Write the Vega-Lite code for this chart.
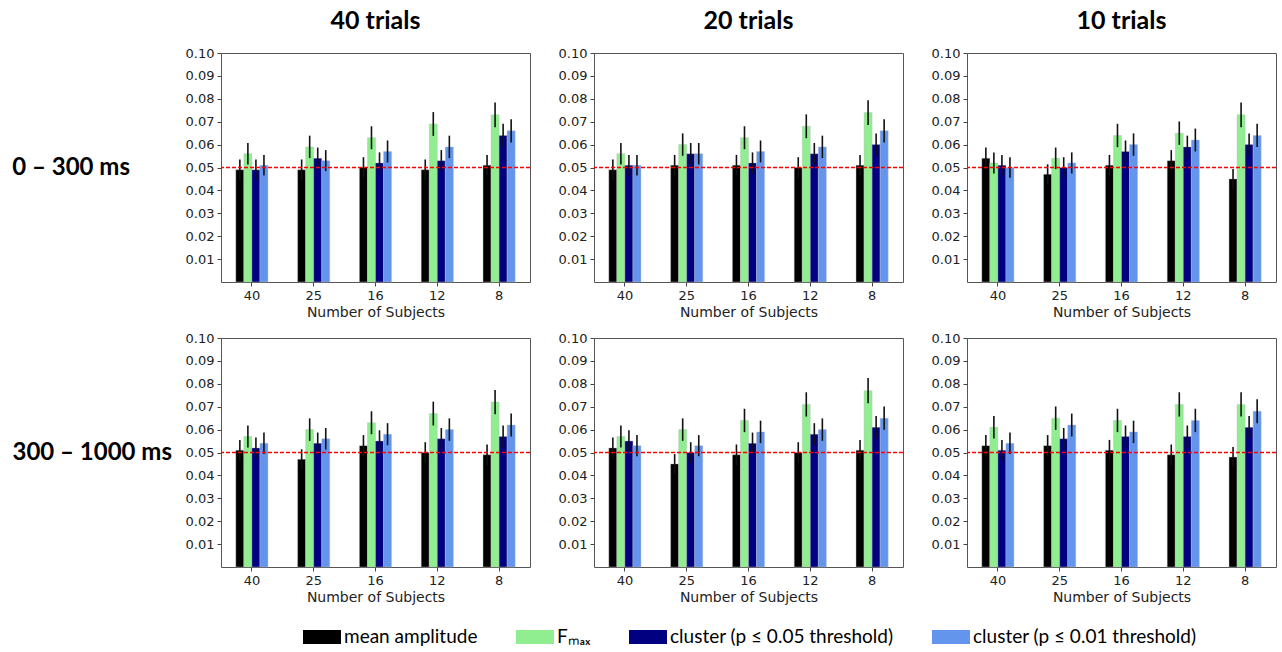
{
"$schema": "https://vega.github.io/schema/vega-lite/v6.json",
"padding": {"left": 12, "top": 9, "right": 5, "bottom": 5},
"data": {"values": [
{"w":"0 – 300 ms","t":"40 trials","n":"40","m":"a","v":0.049,"lo":0.0445,"hi":0.0535},
{"w":"0 – 300 ms","t":"40 trials","n":"40","m":"f","v":0.056,"lo":0.0513,"hi":0.0607},
{"w":"0 – 300 ms","t":"40 trials","n":"40","m":"c5","v":0.049,"lo":0.0445,"hi":0.0535},
{"w":"0 – 300 ms","t":"40 trials","n":"40","m":"c1","v":0.051,"lo":0.0465,"hi":0.0555},
{"w":"0 – 300 ms","t":"40 trials","n":"25","m":"a","v":0.049,"lo":0.0445,"hi":0.0535},
{"w":"0 – 300 ms","t":"40 trials","n":"25","m":"f","v":0.059,"lo":0.0541,"hi":0.0639},
{"w":"0 – 300 ms","t":"40 trials","n":"25","m":"c5","v":0.054,"lo":0.0493,"hi":0.0587},
{"w":"0 – 300 ms","t":"40 trials","n":"25","m":"c1","v":0.053,"lo":0.0484,"hi":0.0576},
{"w":"0 – 300 ms","t":"40 trials","n":"16","m":"a","v":0.050,"lo":0.0455,"hi":0.0545},
{"w":"0 – 300 ms","t":"40 trials","n":"16","m":"f","v":0.063,"lo":0.058,"hi":0.068},
{"w":"0 – 300 ms","t":"40 trials","n":"16","m":"c5","v":0.052,"lo":0.0474,"hi":0.0566},
{"w":"0 – 300 ms","t":"40 trials","n":"16","m":"c1","v":0.057,"lo":0.0522,"hi":0.0618},
{"w":"0 – 300 ms","t":"40 trials","n":"12","m":"a","v":0.049,"lo":0.0445,"hi":0.0535},
{"w":"0 – 300 ms","t":"40 trials","n":"12","m":"f","v":0.069,"lo":0.0638,"hi":0.0742},
{"w":"0 – 300 ms","t":"40 trials","n":"12","m":"c5","v":0.053,"lo":0.0484,"hi":0.0576},
{"w":"0 – 300 ms","t":"40 trials","n":"12","m":"c1","v":0.059,"lo":0.0541,"hi":0.0639},
{"w":"0 – 300 ms","t":"40 trials","n":"8","m":"a","v":0.051,"lo":0.0465,"hi":0.0555},
{"w":"0 – 300 ms","t":"40 trials","n":"8","m":"f","v":0.073,"lo":0.0676,"hi":0.0784},
{"w":"0 – 300 ms","t":"40 trials","n":"8","m":"c5","v":0.064,"lo":0.0589,"hi":0.0691},
{"w":"0 – 300 ms","t":"40 trials","n":"8","m":"c1","v":0.066,"lo":0.0609,"hi":0.0711},
{"w":"0 – 300 ms","t":"20 trials","n":"40","m":"a","v":0.049,"lo":0.0445,"hi":0.0535},
{"w":"0 – 300 ms","t":"20 trials","n":"40","m":"f","v":0.056,"lo":0.0513,"hi":0.0607},
{"w":"0 – 300 ms","t":"20 trials","n":"40","m":"c5","v":0.051,"lo":0.0465,"hi":0.0555},
{"w":"0 – 300 ms","t":"20 trials","n":"40","m":"c1","v":0.051,"lo":0.0465,"hi":0.0555},
{"w":"0 – 300 ms","t":"20 trials","n":"25","m":"a","v":0.051,"lo":0.0465,"hi":0.0555},
{"w":"0 – 300 ms","t":"20 trials","n":"25","m":"f","v":0.060,"lo":0.0551,"hi":0.0649},
{"w":"0 – 300 ms","t":"20 trials","n":"25","m":"c5","v":0.056,"lo":0.0513,"hi":0.0607},
{"w":"0 – 300 ms","t":"20 trials","n":"25","m":"c1","v":0.056,"lo":0.0513,"hi":0.0607},
{"w":"0 – 300 ms","t":"20 trials","n":"16","m":"a","v":0.051,"lo":0.0465,"hi":0.0555},
{"w":"0 – 300 ms","t":"20 trials","n":"16","m":"f","v":0.063,"lo":0.058,"hi":0.068},
{"w":"0 – 300 ms","t":"20 trials","n":"16","m":"c5","v":0.052,"lo":0.0474,"hi":0.0566},
{"w":"0 – 300 ms","t":"20 trials","n":"16","m":"c1","v":0.057,"lo":0.0522,"hi":0.0618},
{"w":"0 – 300 ms","t":"20 trials","n":"12","m":"a","v":0.050,"lo":0.0455,"hi":0.0545},
{"w":"0 – 300 ms","t":"20 trials","n":"12","m":"f","v":0.068,"lo":0.0628,"hi":0.0732},
{"w":"0 – 300 ms","t":"20 trials","n":"12","m":"c5","v":0.056,"lo":0.0513,"hi":0.0607},
{"w":"0 – 300 ms","t":"20 trials","n":"12","m":"c1","v":0.059,"lo":0.0541,"hi":0.0639},
{"w":"0 – 300 ms","t":"20 trials","n":"8","m":"a","v":0.051,"lo":0.0465,"hi":0.0555},
{"w":"0 – 300 ms","t":"20 trials","n":"8","m":"f","v":0.074,"lo":0.0686,"hi":0.0794},
{"w":"0 – 300 ms","t":"20 trials","n":"8","m":"c5","v":0.060,"lo":0.0551,"hi":0.0649},
{"w":"0 – 300 ms","t":"20 trials","n":"8","m":"c1","v":0.066,"lo":0.0609,"hi":0.0711},
{"w":"0 – 300 ms","t":"10 trials","n":"40","m":"a","v":0.054,"lo":0.0493,"hi":0.0587},
{"w":"0 – 300 ms","t":"10 trials","n":"40","m":"f","v":0.052,"lo":0.0474,"hi":0.0566},
{"w":"0 – 300 ms","t":"10 trials","n":"40","m":"c5","v":0.051,"lo":0.0465,"hi":0.0555},
{"w":"0 – 300 ms","t":"10 trials","n":"40","m":"c1","v":0.050,"lo":0.0455,"hi":0.0545},
{"w":"0 – 300 ms","t":"10 trials","n":"25","m":"a","v":0.047,"lo":0.0426,"hi":0.0514},
{"w":"0 – 300 ms","t":"10 trials","n":"25","m":"f","v":0.054,"lo":0.0493,"hi":0.0587},
{"w":"0 – 300 ms","t":"10 trials","n":"25","m":"c5","v":0.050,"lo":0.0455,"hi":0.0545},
{"w":"0 – 300 ms","t":"10 trials","n":"25","m":"c1","v":0.052,"lo":0.0474,"hi":0.0566},
{"w":"0 – 300 ms","t":"10 trials","n":"16","m":"a","v":0.051,"lo":0.0465,"hi":0.0555},
{"w":"0 – 300 ms","t":"10 trials","n":"16","m":"f","v":0.064,"lo":0.0589,"hi":0.0691},
{"w":"0 – 300 ms","t":"10 trials","n":"16","m":"c5","v":0.057,"lo":0.0522,"hi":0.0618},
{"w":"0 – 300 ms","t":"10 trials","n":"16","m":"c1","v":0.060,"lo":0.0551,"hi":0.0649},
{"w":"0 – 300 ms","t":"10 trials","n":"12","m":"a","v":0.053,"lo":0.0484,"hi":0.0576},
{"w":"0 – 300 ms","t":"10 trials","n":"12","m":"f","v":0.065,"lo":0.0599,"hi":0.0701},
{"w":"0 – 300 ms","t":"10 trials","n":"12","m":"c5","v":0.059,"lo":0.0541,"hi":0.0639},
{"w":"0 – 300 ms","t":"10 trials","n":"12","m":"c1","v":0.062,"lo":0.057,"hi":0.067},
{"w":"0 – 300 ms","t":"10 trials","n":"8","m":"a","v":0.045,"lo":0.0407,"hi":0.0493},
{"w":"0 – 300 ms","t":"10 trials","n":"8","m":"f","v":0.073,"lo":0.0676,"hi":0.0784},
{"w":"0 – 300 ms","t":"10 trials","n":"8","m":"c5","v":0.060,"lo":0.0551,"hi":0.0649},
{"w":"0 – 300 ms","t":"10 trials","n":"8","m":"c1","v":0.064,"lo":0.0589,"hi":0.0691},
{"w":"300 – 1000 ms","t":"40 trials","n":"40","m":"a","v":0.051,"lo":0.0465,"hi":0.0555},
{"w":"300 – 1000 ms","t":"40 trials","n":"40","m":"f","v":0.057,"lo":0.0522,"hi":0.0618},
{"w":"300 – 1000 ms","t":"40 trials","n":"40","m":"c5","v":0.052,"lo":0.0474,"hi":0.0566},
{"w":"300 – 1000 ms","t":"40 trials","n":"40","m":"c1","v":0.054,"lo":0.0493,"hi":0.0587},
{"w":"300 – 1000 ms","t":"40 trials","n":"25","m":"a","v":0.047,"lo":0.0426,"hi":0.0514},
{"w":"300 – 1000 ms","t":"40 trials","n":"25","m":"f","v":0.060,"lo":0.0551,"hi":0.0649},
{"w":"300 – 1000 ms","t":"40 trials","n":"25","m":"c5","v":0.054,"lo":0.0493,"hi":0.0587},
{"w":"300 – 1000 ms","t":"40 trials","n":"25","m":"c1","v":0.056,"lo":0.0513,"hi":0.0607},
{"w":"300 – 1000 ms","t":"40 trials","n":"16","m":"a","v":0.053,"lo":0.0484,"hi":0.0576},
{"w":"300 – 1000 ms","t":"40 trials","n":"16","m":"f","v":0.063,"lo":0.058,"hi":0.068},
{"w":"300 – 1000 ms","t":"40 trials","n":"16","m":"c5","v":0.055,"lo":0.0503,"hi":0.0597},
{"w":"300 – 1000 ms","t":"40 trials","n":"16","m":"c1","v":0.058,"lo":0.0532,"hi":0.0628},
{"w":"300 – 1000 ms","t":"40 trials","n":"12","m":"a","v":0.050,"lo":0.0455,"hi":0.0545},
{"w":"300 – 1000 ms","t":"40 trials","n":"12","m":"f","v":0.067,"lo":0.0618,"hi":0.0722},
{"w":"300 – 1000 ms","t":"40 trials","n":"12","m":"c5","v":0.056,"lo":0.0513,"hi":0.0607},
{"w":"300 – 1000 ms","t":"40 trials","n":"12","m":"c1","v":0.060,"lo":0.0551,"hi":0.0649},
{"w":"300 – 1000 ms","t":"40 trials","n":"8","m":"a","v":0.049,"lo":0.0445,"hi":0.0535},
{"w":"300 – 1000 ms","t":"40 trials","n":"8","m":"f","v":0.072,"lo":0.0667,"hi":0.0773},
{"w":"300 – 1000 ms","t":"40 trials","n":"8","m":"c5","v":0.057,"lo":0.0522,"hi":0.0618},
{"w":"300 – 1000 ms","t":"40 trials","n":"8","m":"c1","v":0.062,"lo":0.057,"hi":0.067},
{"w":"300 – 1000 ms","t":"20 trials","n":"40","m":"a","v":0.052,"lo":0.0474,"hi":0.0566},
{"w":"300 – 1000 ms","t":"20 trials","n":"40","m":"f","v":0.057,"lo":0.0522,"hi":0.0618},
{"w":"300 – 1000 ms","t":"20 trials","n":"40","m":"c5","v":0.055,"lo":0.0503,"hi":0.0597},
{"w":"300 – 1000 ms","t":"20 trials","n":"40","m":"c1","v":0.053,"lo":0.0484,"hi":0.0576},
{"w":"300 – 1000 ms","t":"20 trials","n":"25","m":"a","v":0.045,"lo":0.0407,"hi":0.0493},
{"w":"300 – 1000 ms","t":"20 trials","n":"25","m":"f","v":0.060,"lo":0.0551,"hi":0.0649},
{"w":"300 – 1000 ms","t":"20 trials","n":"25","m":"c5","v":0.050,"lo":0.0455,"hi":0.0545},
{"w":"300 – 1000 ms","t":"20 trials","n":"25","m":"c1","v":0.053,"lo":0.0484,"hi":0.0576},
{"w":"300 – 1000 ms","t":"20 trials","n":"16","m":"a","v":0.049,"lo":0.0445,"hi":0.0535},
{"w":"300 – 1000 ms","t":"20 trials","n":"16","m":"f","v":0.064,"lo":0.0589,"hi":0.0691},
{"w":"300 – 1000 ms","t":"20 trials","n":"16","m":"c5","v":0.054,"lo":0.0493,"hi":0.0587},
{"w":"300 – 1000 ms","t":"20 trials","n":"16","m":"c1","v":0.059,"lo":0.0541,"hi":0.0639},
{"w":"300 – 1000 ms","t":"20 trials","n":"12","m":"a","v":0.050,"lo":0.0455,"hi":0.0545},
{"w":"300 – 1000 ms","t":"20 trials","n":"12","m":"f","v":0.071,"lo":0.0657,"hi":0.0763},
{"w":"300 – 1000 ms","t":"20 trials","n":"12","m":"c5","v":0.058,"lo":0.0532,"hi":0.0628},
{"w":"300 – 1000 ms","t":"20 trials","n":"12","m":"c1","v":0.060,"lo":0.0551,"hi":0.0649},
{"w":"300 – 1000 ms","t":"20 trials","n":"8","m":"a","v":0.051,"lo":0.0465,"hi":0.0555},
{"w":"300 – 1000 ms","t":"20 trials","n":"8","m":"f","v":0.077,"lo":0.0715,"hi":0.0825},
{"w":"300 – 1000 ms","t":"20 trials","n":"8","m":"c5","v":0.061,"lo":0.0561,"hi":0.0659},
{"w":"300 – 1000 ms","t":"20 trials","n":"8","m":"c1","v":0.065,"lo":0.0599,"hi":0.0701},
{"w":"300 – 1000 ms","t":"10 trials","n":"40","m":"a","v":0.053,"lo":0.0484,"hi":0.0576},
{"w":"300 – 1000 ms","t":"10 trials","n":"40","m":"f","v":0.061,"lo":0.0561,"hi":0.0659},
{"w":"300 – 1000 ms","t":"10 trials","n":"40","m":"c5","v":0.051,"lo":0.0465,"hi":0.0555},
{"w":"300 – 1000 ms","t":"10 trials","n":"40","m":"c1","v":0.054,"lo":0.0493,"hi":0.0587},
{"w":"300 – 1000 ms","t":"10 trials","n":"25","m":"a","v":0.053,"lo":0.0484,"hi":0.0576},
{"w":"300 – 1000 ms","t":"10 trials","n":"25","m":"f","v":0.065,"lo":0.0599,"hi":0.0701},
{"w":"300 – 1000 ms","t":"10 trials","n":"25","m":"c5","v":0.056,"lo":0.0513,"hi":0.0607},
{"w":"300 – 1000 ms","t":"10 trials","n":"25","m":"c1","v":0.062,"lo":0.057,"hi":0.067},
{"w":"300 – 1000 ms","t":"10 trials","n":"16","m":"a","v":0.051,"lo":0.0465,"hi":0.0555},
{"w":"300 – 1000 ms","t":"10 trials","n":"16","m":"f","v":0.064,"lo":0.0589,"hi":0.0691},
{"w":"300 – 1000 ms","t":"10 trials","n":"16","m":"c5","v":0.057,"lo":0.0522,"hi":0.0618},
{"w":"300 – 1000 ms","t":"10 trials","n":"16","m":"c1","v":0.059,"lo":0.0541,"hi":0.0639},
{"w":"300 – 1000 ms","t":"10 trials","n":"12","m":"a","v":0.049,"lo":0.0445,"hi":0.0535},
{"w":"300 – 1000 ms","t":"10 trials","n":"12","m":"f","v":0.071,"lo":0.0657,"hi":0.0763},
{"w":"300 – 1000 ms","t":"10 trials","n":"12","m":"c5","v":0.057,"lo":0.0522,"hi":0.0618},
{"w":"300 – 1000 ms","t":"10 trials","n":"12","m":"c1","v":0.064,"lo":0.0589,"hi":0.0691},
{"w":"300 – 1000 ms","t":"10 trials","n":"8","m":"a","v":0.048,"lo":0.0436,"hi":0.0524},
{"w":"300 – 1000 ms","t":"10 trials","n":"8","m":"f","v":0.071,"lo":0.0657,"hi":0.0763},
{"w":"300 – 1000 ms","t":"10 trials","n":"8","m":"c5","v":0.061,"lo":0.0561,"hi":0.0659},
{"w":"300 – 1000 ms","t":"10 trials","n":"8","m":"c1","v":0.068,"lo":0.0628,"hi":0.0732}
]},
"facet": {
  "row": {"field": "w", "type": "nominal", "sort": ["0 – 300 ms", "300 – 1000 ms"],
    "header": {"title": null, "labelAngle": 0, "labelOrient": "left", "labelAlign": "left", "labelFont": "Lato", "labelFontSize": 24, "labelFontWeight": "bold", "labelColor": "#000", "labelPadding": 49,
      "labelExpr": "datum.value == '0 – 300 ms' ? '0 – 300 ms\u2800\u2009\u2009\u2800' : datum.value"}},
  "column": {"field": "t", "type": "nominal", "sort": ["40 trials", "20 trials", "10 trials"],
    "header": {"title": null, "labelFont": "Lato", "labelFontSize": 25, "labelFontWeight": "bold", "labelColor": "#000", "labelPadding": 19}}
},
"spacing": {"row": 56, "column": 64},
"bounds": "flush",
"resolve": {"axis": {"x": "independent", "y": "independent"}},
"spec": {
  "width": 309,
  "height": 229,
  "layer": [
    {"mark": {"type": "bar", "stroke": "#bbbbbb", "strokeWidth": 0.4},
     "encoding": {
       "x": {"field": "n", "type": "nominal", "sort": ["40", "25", "16", "12", "8"],
         "scale": {"paddingInner": 0.48, "paddingOuter": 0.24},
         "axis": {"title": "Number of Subjects", "labelAngle": 0}},
       "xOffset": {"field": "m", "type": "nominal", "sort": ["a", "f", "c5", "c1"], "scale": {"domain": ["a", "f", "c5", "c1"]}},
       "y": {"field": "v", "type": "quantitative",
         "scale": {"domain": [0, 0.1], "nice": false, "zero": true},
         "axis": {"title": null, "values": [0.01, 0.02, 0.03, 0.04, 0.05, 0.06, 0.07, 0.08, 0.09, 0.1], "format": ".2f", "labelOverlap": false, "labelFlush": false}},
       "color": {"field": "m", "type": "nominal",
         "scale": {"domain": ["a", "f", "c5", "c1"], "range": ["#000000", "#90EE90", "#000080", "#6495ED"]},
         "legend": {"title": null, "orient": "none", "legendX": 82, "legendY": 565, "direction": "horizontal",
           "labelExpr": "datum.value == 'a' ? 'mean amplitude' : datum.value == 'f' ? 'Fₘₐₓ' : datum.value == 'c5' ? 'cluster (p ≤ 0.05 threshold)' : 'cluster (p ≤ 0.01 threshold)'"}}
     }},
    {"mark": {"type": "rule", "color": "#111111", "strokeWidth": 1.6},
     "encoding": {
       "x": {"field": "n", "type": "nominal", "sort": ["40", "25", "16", "12", "8"]},
       "xOffset": {"field": "m", "type": "nominal", "sort": ["a", "f", "c5", "c1"]},
       "y": {"field": "lo", "type": "quantitative",
         "axis": {"title": null, "values": [0.01, 0.02, 0.03, 0.04, 0.05, 0.06, 0.07, 0.08, 0.09, 0.1], "format": ".2f", "labelOverlap": false, "labelFlush": false}},
       "y2": {"field": "hi"}}},
    {"transform": [{"aggregate": [{"op": "count", "as": "cnt"}]}],
     "mark": {"type": "rule", "color": "#ff0000", "strokeWidth": 1.4, "strokeDash": [4, 2]},
     "encoding": {"y": {"datum": 0.05,
         "axis": {"title": null, "values": [0.01, 0.02, 0.03, 0.04, 0.05, 0.06, 0.07, 0.08, 0.09, 0.1], "format": ".2f", "labelOverlap": false, "labelFlush": false}}}}
  ]
},
"config": {
  "view": {"stroke": "#555555", "strokeWidth": 1},
  "axis": {"domain": false, "grid": false, "labelFont": "DejaVu Sans", "labelFontSize": 13, "labelColor": "#222222", "tickColor": "#444444", "tickSize": 4, "labelPadding": 3,
    "titleFont": "DejaVu Sans", "titleFontSize": 14, "titleFontWeight": "normal", "titleColor": "#222222", "titlePadding": 3, "labelOverlap": false},
  "axisY": {"labelOverlap": false},
  "legend": {"labelFont": "Lato", "labelFontSize": 19, "labelColor": "#000000", "symbolType": "M-1,-0.37H1V0.37H-1Z", "symbolSize": 1444, "symbolStrokeWidth": 0, "columnPadding": 38, "labelOffset": 3, "labelLimit": 400}
}
}
